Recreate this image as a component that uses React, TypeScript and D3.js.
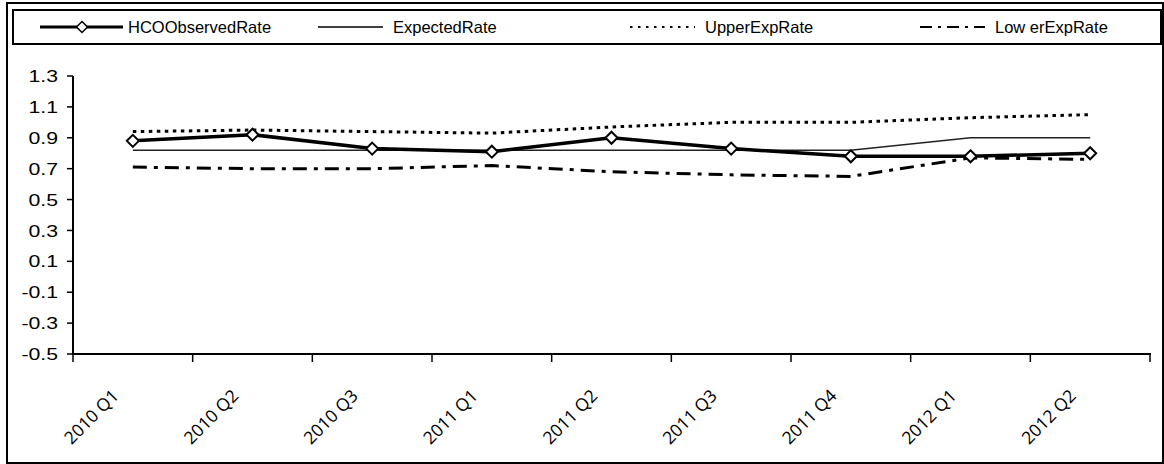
import React from "react";
import * as d3 from "d3";

const categories = [
  "2010 Q1",
  "2010 Q2",
  "2010 Q3",
  "2011 Q1",
  "2011 Q2",
  "2011 Q3",
  "2011 Q4",
  "2012 Q1",
  "2012 Q2",
];
const observedRate = [0.88, 0.92, 0.83, 0.81, 0.9, 0.83, 0.78, 0.78, 0.8];
const expectedRate = [0.82, 0.82, 0.82, 0.82, 0.82, 0.82, 0.82, 0.9, 0.9];
const upperExpRate = [0.94, 0.95, 0.94, 0.93, 0.97, 1.0, 1.0, 1.03, 1.05];
const lowerExpRate = [0.71, 0.7, 0.7, 0.72, 0.68, 0.66, 0.65, 0.77, 0.76];
const yTicks = [-0.5, -0.3, -0.1, 0.1, 0.3, 0.5, 0.7, 0.9, 1.1, 1.3];

const legendItems = [
  { label: "HCOObservedRate", key: "obs" },
  { label: "ExpectedRate", key: "exp" },
  { label: "UpperExpRate", key: "up" },
  { label: "Low erExpRate", key: "low" },
];

const W = 1164;
const H = 464;
const font = "'Liberation Sans', Arial, sans-serif";

export default function App() {
  const x = d3.scaleBand<string>().domain(categories).range([73, 1150]);
  const y = d3.scaleLinear().domain([-0.5, 1.3]).range([354, 76]);
  const cx = (i: number) => (x(categories[i]) ?? 0) + x.bandwidth() / 2;

  const line = d3
    .line<number>()
    .x((_, i) => cx(i))
    .y((d) => y(d));

  const legendX = [40, 318, 630, 920];

  return (
    <svg
      width={W}
      height={H}
      style={{ position: "absolute", left: 0, top: 0, display: "block" }}
    >
      <rect x={0} y={0} width={W} height={H} fill="#fff" />
      {/* outer border */}
      <rect x={7} y={3} width={1156} height={460} fill="none" stroke="#000" strokeWidth={2} />
      {/* legend box */}
      <rect x={13} y={10} width={1148} height={34} fill="#fff" stroke="#000" strokeWidth={2} />
      {legendItems.map((item, i) => {
        const x0 = legendX[i];
        const isObs = item.key === "obs";
        const sampleEnd = isObs ? x0 + 83 : x0 + 65;
        return (
          <g key={item.key}>
            <line
              x1={x0}
              x2={sampleEnd}
              y1={27}
              y2={27}
              stroke="#000"
              strokeWidth={isObs ? 3 : item.key === "exp" ? 1.5 : 2}
              strokeDasharray={item.key === "up" ? "2.5,5.5" : item.key === "low" ? "12,6,3,6" : undefined}
            />
            {isObs && (
              <path
                d={`M${x0 + 42},21.5L${x0 + 47.5},27L${x0 + 42},32.5L${x0 + 36.5},27Z`}
                fill="#fff"
                stroke="#000"
                strokeWidth={1.5}
              />
            )}
            <text
              x={isObs ? x0 + 88 : x0 + 75}
              y={33}
              fontFamily={font}
              fontSize={16.5}
              fill="#000"
            >
              {item.label}
            </text>
          </g>
        );
      })}

      {/* y axis */}
      <line x1={73} x2={73} y1={76} y2={354} stroke="#000" strokeWidth={2} />
      {yTicks.map((t) => (
        <g key={t}>
          <line x1={67} x2={73} y1={y(t)} y2={y(t)} stroke="#000" strokeWidth={1.5} />
          <text
            transform={`translate(58,${y(t)}) scale(1.25,1)`}
            dy="0.36em"
            textAnchor="end"
            fontFamily={font}
            fontSize={17}
            fill="#000"
          >
            {t.toFixed(1)}
          </text>
        </g>
      ))}

      {/* x axis */}
      <line x1={72} x2={1151} y1={354} y2={354} stroke="#000" strokeWidth={2} />
      {categories.map((c) => (
        <line
          key={c}
          x1={x(c) ?? 0}
          x2={x(c) ?? 0}
          y1={354}
          y2={362}
          stroke="#000"
          strokeWidth={1.5}
        />
      ))}
      <line x1={1150} x2={1150} y1={354} y2={362} stroke="#000" strokeWidth={1.5} />
      {categories.map((c, i) => (
        <text
          key={c}
          transform={`translate(${cx(i) - 13},${397}) rotate(-45)`}
          textAnchor="end"
          fontFamily="'Open Sans', sans-serif"
          fontSize={17.5}
          fill="#000"
        >
          {c}
        </text>
      ))}

      {/* series */}
      <path d={line(upperExpRate) ?? ""} fill="none" stroke="#000" strokeWidth={3} strokeDasharray="3.5,4.5" />
      <path d={line(lowerExpRate) ?? ""} fill="none" stroke="#000" strokeWidth={3} strokeDasharray="14,7,4,7" />
      <path d={line(expectedRate) ?? ""} fill="none" stroke="#222" strokeWidth={1.5} />
      <path d={line(observedRate) ?? ""} fill="none" stroke="#000" strokeWidth={3.5} strokeLinejoin="round" />
      {observedRate.map((v, i) => (
        <path
          key={i}
          d={`M${cx(i)},${y(v) - 6}L${cx(i) + 6},${y(v)}L${cx(i)},${y(v) + 6}L${cx(i) - 6},${y(v)}Z`}
          fill="#fff"
          stroke="#000"
          strokeWidth={2}
        />
      ))}
    </svg>
  );
}
